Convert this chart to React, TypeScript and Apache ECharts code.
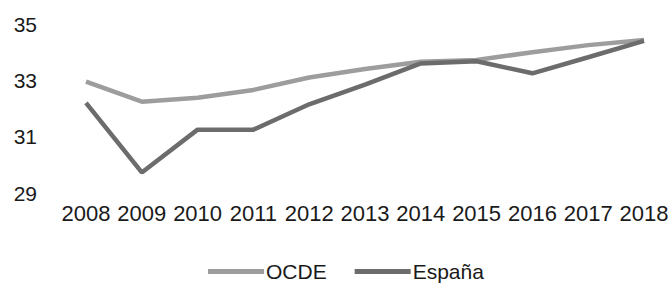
import React, { useEffect, useRef } from "react";
import * as echarts from "echarts";

const years = ["2008", "2009", "2010", "2011", "2012", "2013", "2014", "2015", "2016", "2017", "2018"];
const ocde = [32.95, 32.24, 32.38, 32.66, 33.1, 33.4, 33.66, 33.72, 34.0, 34.25, 34.43];
const espana = [32.2, 29.73, 31.25, 31.25, 32.15, 32.85, 33.6, 33.68, 33.25, 33.82, 34.4];
const yTicks = [29, 31, 33, 35];

export default function App() {
  const ref = useRef<HTMLDivElement>(null);
  useEffect(() => {
    if (!ref.current) return;
    const chart = echarts.init(ref.current, undefined, { renderer: "svg" });
    const font = "Liberation Sans, Arial, sans-serif";
    chart.setOption({
      animation: false,
      backgroundColor: "#ffffff",
      grid: { left: 86, right: 28, top: 24, bottom: 90 },
      legend: {
        top: 261,
        left: 208,
        padding: 0,
        itemWidth: 56,
        itemHeight: 5,
        itemGap: 28,
        icon: "rect",
        textStyle: { fontFamily: font, fontSize: 21, lineHeight: 21, color: "#1a1a1a", padding: [0, 0, 0, -3] },
        data: ["OCDE", "España"],
      },
      xAxis: {
        type: "category",
        data: years,
        boundaryGap: false,
        axisLine: { show: false },
        axisTick: { show: false },
        axisLabel: { interval: 0, margin: 9, fontFamily: font, fontSize: 22, color: "#1a1a1a" },
      },
      yAxis: {
        type: "value",
        min: yTicks[0],
        max: yTicks[yTicks.length - 1],
        interval: 2,
        splitLine: { show: false },
        axisLine: { show: false },
        axisTick: { show: false },
        axisLabel: { margin: 49, fontFamily: font, fontSize: 21, color: "#1a1a1a" },
      },
      series: [
        {
          name: "OCDE",
          type: "line",
          data: ocde,
          symbol: "none",
          itemStyle: { color: "#9d9d9d" },
          lineStyle: { color: "#9d9d9d", width: 4.5 },
        },
        {
          name: "España",
          type: "line",
          data: espana,
          symbol: "none",
          itemStyle: { color: "#6c6c6c" },
          lineStyle: { color: "#6c6c6c", width: 4.5 },
        },
      ],
    });
    return () => chart.dispose();
  }, []);
  return <div ref={ref} style={{ width: 672, height: 283, position: "absolute", left: 0, top: 0 }} />;
}
